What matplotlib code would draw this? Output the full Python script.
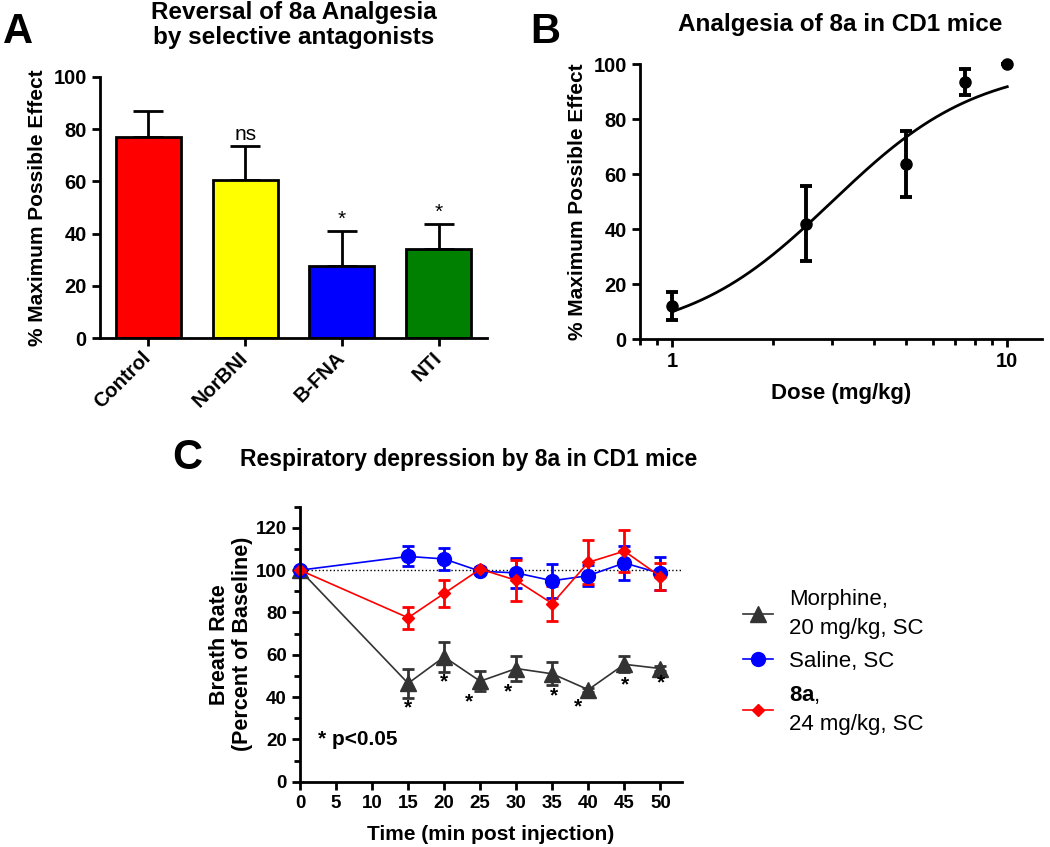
import matplotlib
matplotlib.use('Agg')
import matplotlib.pyplot as plt
from matplotlib.ticker import MultipleLocator, LogLocator, NullFormatter, FixedLocator
from matplotlib.transforms import ScaledTranslation
import numpy as np

plt.rcParams.update({
    'font.family': ['Liberation Sans', 'DejaVu Sans'],
    'mathtext.fontset': 'custom',
    'mathtext.bf': 'Liberation Sans:bold',
    'mathtext.rm': 'Liberation Sans',
    'axes.linewidth': 2,
    'xtick.major.width': 2, 'ytick.major.width': 2,
    'xtick.minor.width': 2, 'ytick.minor.width': 2,
    'xtick.major.size': 6, 'ytick.major.size': 6,
    'xtick.minor.size': 4, 'ytick.minor.size': 4,
})

# panel A - antagonists
groups = ['Control', 'NorBNI', 'B-FNA', 'NTI']
mpe = [77, 60.5, 27.5, 34]
mpe_err = [10, 13, 13.5, 9.5]
bar_colors = ['#ff0000', '#ffff00', '#0000ff', '#008000']
sig_a = ['', 'ns', '*', '*']

# panel B - dose response
dose = [1, 2.5, 5, 7.5, 10]
dose_mpe = [12, 42, 63.5, 93.5, 100]
dose_err = [5, 13.5, 12, 4.8, 0]
ed50 = 3.0      # fitted curve parameters
hill = 2.0

# panel C - breath rate
time = [0, 15, 20, 25, 30, 35, 40, 45, 50]
morphine = [100, 46.5, 59, 47.5, 53.5, 51, 43.5, 55.5, 53.5]
morphine_err = [0, 6.8, 7, 4.7, 6, 5.5, 1, 3.7, 1]
saline = [100, 106.5, 105.3, 99.5, 98.7, 95, 97.4, 103.4, 98.5]
saline_err = [0, 4.7, 5.2, 1, 7.2, 8, 5, 8, 7.8]
drug8a = [100, 77.5, 89, 100.5, 95.2, 84.2, 103.7, 109, 97]
drug8a_err = [0, 5.2, 6.3, 1, 9.7, 8.2, 10.4, 10, 6.5]
star_t = [15, 20, 23.4, 28.8, 35.2, 38.5, 45.1, 50.1]
star_y = [35, 47, 37.5, 42.5, 40.5, 35.5, 46, 46.5]

fig = plt.figure(figsize=(10.5, 8.47), dpi=100)
W, H = 1050, 847


def box(l, t, r, b):
    return [l / W, 1 - b / H, (r - l) / W, (b - t) / H]


def style(ax, size):
    for s in ('top', 'right'):
        ax.spines[s].set_visible(False)
    ax.tick_params(labelsize=size, direction='out')
    for lb in ax.get_xticklabels() + ax.get_yticklabels():
        lb.set_fontweight('bold')


# ---- A
ax = fig.add_axes(box(100, 77, 487, 338))
x = np.arange(len(groups))
ax.bar(x, mpe, width=0.67, color=bar_colors, edgecolor='black', lw=2, zorder=2)
ax.errorbar(x, mpe, yerr=[np.zeros(len(mpe)), mpe_err], fmt='none',
            ecolor='black', elinewidth=2, capsize=11, capthick=2, zorder=1)
for xi, m, e, s in zip(x, mpe, mpe_err, sig_a):
    if s:
        ax.text(xi, m + e + 1, s, ha='center', va='bottom', fontsize=15)
ax.set_xlim(-0.5, 3.5)
ax.set_ylim(0, 100)
ax.yaxis.set_major_locator(MultipleLocator(20))
ax.set_xticks(x)
style(ax, 14.5)
# tick labels drawn as plain texts so they can sit a bit left of the ticks
ax.set_xticklabels([])
shift = ScaledTranslation(-7 / 100, -10 / 100, fig.dpi_scale_trans)
for xi, g in zip(x, groups):
    ax.text(xi, 0, g, transform=ax.get_xaxis_transform() + shift, rotation=45,
            ha='right', va='top', rotation_mode='anchor', fontsize=14.5,
            fontweight='bold')
ax.set_ylabel('% Maximum Possible Effect', fontsize=15, fontweight='bold')
ax.yaxis.set_label_coords(-0.137, 0.5)
fig.text(294 / W, 1 - 25 / H, 'Reversal of 8a Analgesia\nby selective antagonists',
         ha='center', va='center', fontsize=17.5, fontweight='bold', linespacing=1.12)
fig.text(3 / W, 1 - 32 / H, 'A', fontsize=30, fontweight='bold', va='center')

# ---- B
ax = fig.add_axes(box(640, 64, 1042, 339))
ax.set_xscale('log')
xs = np.logspace(0, 1, 200)
ax.plot(xs, 100 / (1 + (ed50 / xs) ** hill), color='black', lw=2)
ax.errorbar(dose, dose_mpe, yerr=dose_err, fmt='o', color='black', ms=8,
            elinewidth=2.8, capsize=4.5, capthick=2.8, clip_on=False)
ax.set_xlim(0.8, 12.7)
ax.set_ylim(0, 100)
ax.yaxis.set_major_locator(MultipleLocator(20))
ax.xaxis.set_major_locator(FixedLocator([1, 10]))
ax.xaxis.set_minor_locator(LogLocator(subs=np.arange(2, 10)))
ax.xaxis.set_minor_formatter(NullFormatter())
ax.set_xticklabels(['1', '10'])
style(ax, 14.5)
ax.set_ylabel('% Maximum Possible Effect', fontsize=15, fontweight='bold')
ax.yaxis.set_label_coords(-0.132, 0.5)
ax.set_xlabel('Dose (mg/kg)', fontsize=16, fontweight='bold')
ax.xaxis.set_label_coords(0.5, -0.16)
fig.text(840 / W, 1 - 24 / H, 'Analgesia of 8a in CD1 mice', ha='center', va='center',
         fontsize=17.5, fontweight='bold')
fig.text(530 / W, 1 - 32 / H, 'B', fontsize=30, fontweight='bold', va='center')

# ---- C
ax = fig.add_axes(box(300, 506.7, 682, 781.7))
ax.axhline(100, color='black', ls=':', lw=1)
ax.errorbar(time, morphine, yerr=morphine_err, fmt='-^', color='#333333', ms=11,
            lw=1.2, elinewidth=2, capsize=4.5, capthick=2, clip_on=False)
ax.errorbar(time, saline, yerr=saline_err, fmt='-o', color='#0000ff', ms=10,
            lw=1.2, elinewidth=2, capsize=4.5, capthick=2, clip_on=False)
ax.errorbar(time, drug8a, yerr=drug8a_err, fmt='-D', color='#ff0000', ms=6,
            lw=1.2, elinewidth=2, capsize=4.5, capthick=2, clip_on=False)
for t, y in zip(star_t, star_y):
    ax.text(t, y, '*', ha='center', va='center', fontsize=15, fontweight='bold')
ax.text(2.5, 20, '* p<0.05', ha='left', va='center', fontsize=15, fontweight='bold')
ax.set_xlim(0, 53)
ax.set_ylim(0, 130)
ax.xaxis.set_major_locator(MultipleLocator(5))
ax.yaxis.set_major_locator(FixedLocator([0, 20, 40, 60, 80, 100, 120]))
ax.yaxis.set_minor_locator(MultipleLocator(10))
style(ax, 13.5)
ax.set_ylabel('Breath Rate\n(Percent of Baseline)', fontsize=15.5, fontweight='bold',
              linespacing=1.1)
ax.yaxis.set_label_coords(-0.123, 0.5)
ax.set_xlabel('Time (min post injection)', fontsize=15, fontweight='bold')
ax.xaxis.set_label_coords(0.5, -0.157)
leg_h = [
    plt.Line2D([], [], color='#333333', marker='^', ms=11, lw=1.2),
    plt.Line2D([], [], color='#0000ff', marker='o', ms=10, lw=1.2),
    plt.Line2D([], [], color='#ff0000', marker='D', ms=6, lw=1.2),
]
leg = fig.legend(leg_h, ['Morphine,\n20 mg/kg, SC', 'Saline, SC',
                         r'$\bf{8a}$,' + '\n24 mg/kg, SC'],
                 loc='upper left', bbox_to_anchor=(743 / W, 1 - 589 / H), frameon=False,
                 borderpad=0, borderaxespad=0, fontsize=16, handlelength=1.35,
                 handletextpad=0.72, labelspacing=0.55)
for t in leg.get_texts():
    t.set_linespacing(1.5)
fig.text(240 / W, 1 - 459 / H, 'Respiratory depression by 8a in CD1 mice', ha='left',
         va='center', fontsize=16.5, fontweight='bold')
fig.text(172 / W, 1 - 458 / H, 'C', fontsize=30, fontweight='bold', va='center')

fig.savefig('out.png', dpi=100)
